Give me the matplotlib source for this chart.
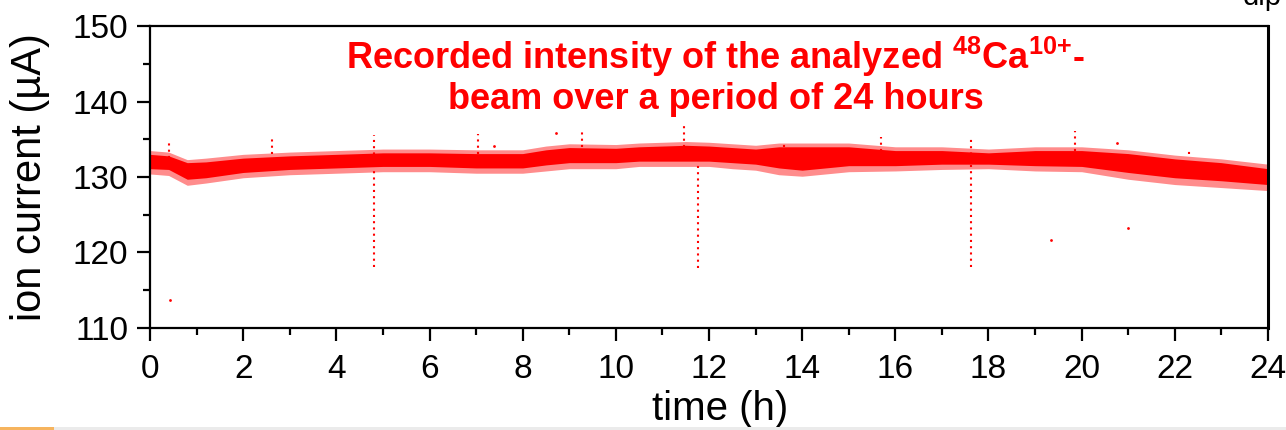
import matplotlib
matplotlib.use("Agg")
import matplotlib.pyplot as plt
from matplotlib.patches import Rectangle
from matplotlib.ticker import MultipleLocator

plt.rcParams['font.family'] = ['Liberation Sans', 'DejaVu Sans']
plt.rcParams['mathtext.fontset'] = 'custom'
plt.rcParams['mathtext.rm'] = 'Liberation Sans:bold'
plt.rcParams['mathtext.default'] = 'rm'

# Beam current record: hours since start and the envelope of the recorded samples (µA)
hours = [0, 0.4, 0.8, 1.2, 2, 3, 4, 5, 6, 7, 8, 8.5, 9, 10, 10.5, 11, 11.5,
         12, 12.5, 13, 13.5, 14, 15, 16, 17, 18, 19, 20, 21, 22, 23, 24]
dense_top = [133.0, 132.8, 131.9, 132.0, 132.5, 132.8, 133.0, 133.2, 133.2, 133.1,
             133.1, 133.6, 133.9, 133.8, 134.0, 134.1, 134.2, 134.1, 133.9, 133.7,
             134.0, 134.0, 134.0, 133.5, 133.5, 133.2, 133.5, 133.5, 133.1, 132.4,
             131.9, 131.1]
dense_bottom = [131.1, 131.0, 129.7, 129.9, 130.6, 131.0, 131.2, 131.4, 131.4, 131.2,
                131.2, 131.6, 131.9, 131.9, 132.1, 132.1, 132.1, 132.1, 131.9, 131.7,
                131.2, 130.9, 131.5, 131.5, 131.7, 131.7, 131.5, 131.4, 130.6, 129.9,
                129.5, 129.0]
sparse_top = [133.5, 133.3, 132.3, 132.5, 133.0, 133.3, 133.5, 133.7, 133.7, 133.6,
              133.6, 134.1, 134.4, 134.3, 134.5, 134.6, 134.7, 134.6, 134.4, 134.2,
              134.5, 134.5, 134.5, 134.0, 134.0, 133.7, 134.0, 134.0, 133.6, 132.9,
              132.4, 131.7]
sparse_bottom = [130.4, 130.2, 128.9, 129.2, 129.9, 130.3, 130.5, 130.7, 130.7, 130.5,
                 130.5, 130.8, 131.1, 131.1, 131.4, 131.4, 131.4, 131.4, 131.1, 130.9,
                 130.3, 130.1, 130.7, 130.8, 131.0, 131.1, 130.8, 130.7, 129.7, 129.0,
                 128.6, 128.2]

# Short excursions: time (h), lowest and highest reading (µA)
spike_time = [0.40, 2.62, 4.80, 7.04, 9.27, 11.46, 11.76, 13.60, 15.70, 17.62, 19.85, 22.30]
spike_low = [132.5, 133.0, 118.1, 133.0, 134.0, 134.0, 118.0, 134.0, 133.5, 118.1, 133.5, 133.0]
spike_high = [134.7, 135.4, 135.5, 135.7, 136.2, 137.3, 132.0, 134.7, 135.3, 135.3, 136.1, 133.6]

# Isolated readings (h, µA)
single_time = [0.43, 7.38, 8.71, 19.35, 20.75, 21.00]
single_current = [113.7, 134.1, 135.8, 121.7, 134.5, 123.2]

RED = '#ff0000'

fig = plt.figure(figsize=(12.86, 4.30), dpi=100)
ax = fig.add_axes([150 / 1286, 1 - 328 / 430, 1118 / 1286, 302 / 430])

ax.fill_between(hours, sparse_bottom, sparse_top, color=RED, alpha=0.45, linewidth=0)
ax.fill_between(hours, dense_bottom, dense_top, color=RED, linewidth=0)
ax.vlines(spike_time, spike_low, spike_high, colors=RED, linewidth=1.5,
          linestyles=(0, (1, 2)))
ax.scatter(single_time, single_current, s=4, color=RED, linewidths=0)

ax.set_xlim(0, 24)
ax.set_ylim(110, 150)
ax.xaxis.set_major_locator(MultipleLocator(2))
ax.xaxis.set_minor_locator(MultipleLocator(1))
ax.yaxis.set_major_locator(MultipleLocator(10))
ax.yaxis.set_minor_locator(MultipleLocator(5))
ax.tick_params(which='both', direction='out', width=1.6, colors='black',
               top=False, right=False)
ax.tick_params(which='major', length=9.5, labelsize=24)
ax.tick_params(axis='x', which='major', pad=9)
ax.tick_params(axis='y', which='major', pad=6)
ax.tick_params(which='minor', length=5)
for side in ('left', 'bottom', 'top'):
    ax.spines[side].set_linewidth(1.6)
ax.spines['right'].set_linewidth(2.2)

ax.set_xlabel('time (h)', fontsize=29)
ax.xaxis.set_label_coords(0.51, -0.205)
ax.set_ylabel('ion current (µA)', fontsize=30)
ax.yaxis.set_label_coords(-0.089, 0.5)

ax.text(0.506, 0.898, r'Recorded intensity of the analyzed $^{48}$Ca$^{10{+}}$-',
        transform=ax.transAxes, ha='center', va='center', color=RED,
        fontsize=26, fontweight='bold')
ax.text(0.506, 0.755, 'beam over a period of 24 hours',
        transform=ax.transAxes, ha='center', va='center', color=RED,
        fontsize=26, fontweight='bold')

# text from the neighbouring panel, clipped at the top edge
fig.text(0.997, 1 - 5 / 430, 'dip', ha='right', va='baseline', fontsize=21)

# page strip along the bottom edge
fig.patches.append(Rectangle((0, 0), 1, 3 / 430, transform=fig.transFigure,
                             facecolor='#ebebeb', edgecolor='none'))
fig.patches.append(Rectangle((0, 0), 54 / 1286, 3 / 430, transform=fig.transFigure,
                             facecolor='#f6b45e', edgecolor='none'))

fig.savefig('out.png', dpi=100)
